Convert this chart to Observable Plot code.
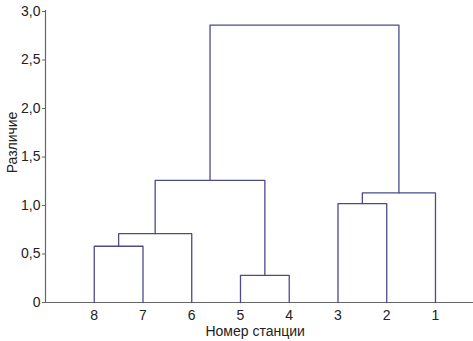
<!DOCTYPE html>
<html><head><meta charset="utf-8">
<script src="https://cdn.jsdelivr.net/npm/d3@7"></script>
<script src="https://cdn.jsdelivr.net/npm/@observablehq/plot@0.6"></script>
<style>
body{margin:0;background:#fff;}
svg{font-family:"Liberation Sans",Arial,sans-serif;}
</style>
</head><body><div id="chart"></div>
<script>
const leaves = ["8","7","6","5","4","3","2","1"];
// merges: children refer to leaf index (L0..L7) or merge index (M0..)
const mergeLeft  = ["L0","M0","L3","M1","L5","M4","M3"];
const mergeRight = ["L1","L2","L4","M2","L6","L7","M5"];
const mergeHeight = [0.58, 0.71, 0.28, 1.26, 1.02, 1.13, 2.86];
const yTicks = [0, 0.5, 1.0, 1.5, 2.0, 2.5, 3.0];

const pos = {};
leaves.forEach((l,i)=>{pos["L"+i] = {x:i, h:0};});
const segs = [];
mergeHeight.forEach((H,i)=>{
  const a = pos[mergeLeft[i]], b = pos[mergeRight[i]];
  segs.push({id:i, x:a.x, y:a.h},{id:i, x:a.x, y:H},{id:i, x:b.x, y:H},{id:i, x:b.x, y:b.h});
  pos["M"+i] = {x:(a.x+b.x)/2, h:H};
});

const fmt = d => d===0 ? "0" : d.toFixed(1).replace(".", ",");
const plot = Plot.plot({
  width:473, height:341,
  marginLeft:45, marginRight:0, marginTop:11, marginBottom:39,
  style:{fontSize:"13px", color:"#222", background:"#fff"},
  x:{domain:[-1,7.78], axis:null},
  y:{domain:[0,3], axis:null},
  marks:[
    Plot.ruleX([-1], {y1:0, y2:3.01, stroke:"#666", strokeWidth:1.2}),
    Plot.ruleY([0], {stroke:"#666", strokeWidth:1.2}),
    Plot.line(segs, {x:"x", y:"y", z:"id", stroke:"#4b4b8c", strokeWidth:1.3, curve:"linear"}),
    Plot.axisY(yTicks, {x:-1, tickSize:3, tickPadding:2, tickFormat:fmt, anchor:"left", stroke:"#666", fontSize:14, label:null}),
    Plot.axisX(d3.range(leaves.length), {y:0, tickSize:0, tickPadding:8, tickFormat:i=>leaves[i], anchor:"bottom", fontSize:14, label:null}),
    Plot.text(["Номер станции"], {frameAnchor:"bottom", dy:33, x:3.3, fontSize:14, fill:"#222"}),
    Plot.text(["Различие"], {x:-1, y:1.65, rotate:-90, dx:-33, fontSize:14, fill:"#222"})
  ]
});
document.getElementById("chart").appendChild(plot);
</script>
</body></html>
